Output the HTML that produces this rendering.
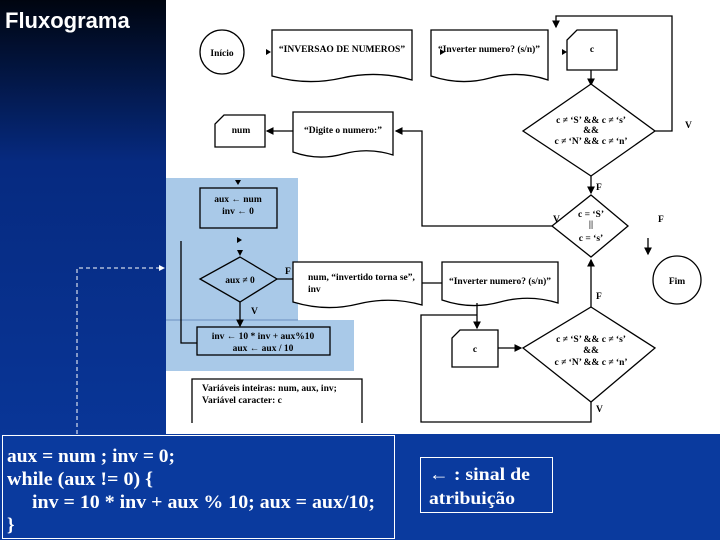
<!DOCTYPE html>
<html><head><meta charset="utf-8"><style>
html,body{margin:0;padding:0;width:720px;height:540px;overflow:hidden}
svg{display:block}
.t{font-family:"Liberation Serif",serif;font-weight:bold;font-size:9.5px;fill:#000}
.c{font-family:"Liberation Serif",serif;font-weight:bold;fill:#fff}
</style></head><body>
<svg width="720" height="540" viewBox="0 0 720 540" xmlns="http://www.w3.org/2000/svg">
<defs>
<linearGradient id="bg" x1="0" y1="0" x2="0" y2="1">
<stop offset="0" stop-color="#000510"/><stop offset="0.3" stop-color="#062a80"/><stop offset="1" stop-color="#0a3aa0"/>
</linearGradient>
<marker id="a" markerWidth="6" markerHeight="6" refX="5" refY="3" orient="auto"><path d="M0,0L6,3L0,6z" fill="#000"/></marker>
<marker id="w" markerWidth="6" markerHeight="6" refX="5" refY="3" orient="auto"><path d="M0,0L6,3L0,6z" fill="#fff"/></marker>
</defs>
<rect width="720" height="540" fill="url(#bg)"/>
<rect x="0" y="434" width="720" height="106" fill="#0a3a9e"/>
<rect x="166" y="0" width="554" height="434" fill="#fff"/>
<rect x="166" y="178" width="132" height="143" fill="#a9c9e8"/>
<rect x="166" y="320" width="188" height="51" fill="#a9c9e8"/>
<line x1="166" y1="320" x2="298" y2="320" stroke="#6b8fc0" stroke-width="1"/>
<text x="5" y="28" font-family="Liberation Sans,sans-serif" font-weight="bold" font-size="22" fill="#fff">Fluxograma</text>
<g stroke="#000" fill="none" stroke-width="1.3">
<circle cx="222" cy="52" r="22" fill="#fff"/>
<path d="M272,30H412V80Q377,70 342,78T272,76Z" fill="#fff"/>
<path d="M431,30H548V80Q519,70 490,78T431,76Z" fill="#fff"/>
<path d="M577,30H617V70H567V40Z" fill="#fff"/>
<line x1="591" y1="70" x2="591" y2="85" marker-end="url(#a)"/>
<polygon points="591,84 655,131 591,176 523,131" fill="#fff"/>
<polyline points="655,131 672,131 672,16 556,16 556,27" marker-end="url(#a)"/>
<line x1="591" y1="176" x2="591" y2="193" marker-end="url(#a)"/>
<polygon points="591,195 628,226 591,257 552,226" fill="#fff"/>
<polyline points="552,226 422,226 422,131 396,131" marker-end="url(#a)"/>
<line x1="648" y1="238" x2="648" y2="254" marker-end="url(#a)"/>
<circle cx="677" cy="280" r="24" fill="#fff"/>
<path d="M293,112H393V155Q368,147 343,154T293,152Z" fill="#fff"/>
<line x1="293" y1="131" x2="267" y2="131" marker-end="url(#a)"/>
<path d="M224,115H265V147H215V124Z" fill="#fff"/>
<rect x="200" y="188" width="77" height="40"/>
<polygon points="240,257 277,279 240,302 200,279"/>
<line x1="277" y1="279" x2="304" y2="279" marker-end="url(#a)"/>
<line x1="240" y1="302" x2="240" y2="326" marker-end="url(#a)"/>
<rect x="197" y="327" width="133" height="28"/>
<polyline points="197,343 181,343 181,241"/>
<path d="M293,262H422V305Q390,296 358,304T293,302Z" fill="#fff"/>
<line x1="422" y1="283" x2="457" y2="283" marker-end="url(#a)"/>
<path d="M442,262H558V303Q529,294 500,302T442,300Z" fill="#fff"/>
<line x1="477" y1="303" x2="477" y2="328" marker-end="url(#a)"/>
<path d="M460,330H498V367H452V338Z" fill="#fff"/>
<line x1="498" y1="348" x2="521" y2="348" marker-end="url(#a)"/>
<polygon points="591,307 655,348 591,402 523,348" fill="#fff"/>
<line x1="591" y1="307" x2="591" y2="260" marker-end="url(#a)"/>
<polyline points="591,402 591,422 421,422 421,315 477,315"/>
<path d="M192,423V379H362V423"/>
</g>
<g fill="#000">
<path d="M266,49L271,52L266,55z"/><path d="M440,49L445,52L440,55z"/><path d="M562,49L567,52L562,55z"/>
<path d="M235,180L241,180L238,185z"/><path d="M237,237L242,240L237,243z"/><path d="M237,250L243,250L240,256z"/>
</g>
<g class="t">
<text x="222" y="56" text-anchor="middle">Início</text>
<text x="342" y="52" text-anchor="middle">“INVERSAO DE NUMEROS”</text>
<text x="489" y="52" text-anchor="middle">“Inverter numero? (s/n)”</text>
<text x="592" y="52" text-anchor="middle">c</text>
<text x="591" y="123" text-anchor="middle">c ≠ ‘S’ &amp;&amp; c ≠ ‘s’</text>
<text x="591" y="133" text-anchor="middle">&amp;&amp;</text>
<text x="591" y="144" text-anchor="middle">c ≠ ‘N’ &amp;&amp; c ≠ ‘n’</text>
<text x="685" y="128">V</text>
<text x="596" y="190">F</text>
<text x="591" y="217" text-anchor="middle">c = ‘S’</text>
<text x="591" y="227" text-anchor="middle">||</text>
<text x="591" y="241" text-anchor="middle">c = ‘s’</text>
<text x="553" y="222">V</text>
<text x="658" y="222">F</text>
<text x="677" y="284" text-anchor="middle">Fim</text>
<text x="343" y="133" text-anchor="middle">“Digite o numero:”</text>
<text x="241" y="133" text-anchor="middle">num</text>
<text x="238" y="202" text-anchor="middle">aux ← num</text>
<text x="238" y="214" text-anchor="middle">inv ← 0</text>
<text x="240" y="283" text-anchor="middle">aux ≠ 0</text>
<text x="285" y="274">F</text>
<text x="251" y="314">V</text>
<text x="263" y="339" text-anchor="middle">inv ← 10 * inv + aux%10</text>
<text x="263" y="351" text-anchor="middle">aux ← aux / 10</text>
<text x="308" y="280">num, “invertido torna se”,</text>
<text x="308" y="292">inv</text>
<text x="500" y="284" text-anchor="middle">“Inverter numero? (s/n)”</text>
<text x="475" y="352" text-anchor="middle">c</text>
<text x="591" y="342" text-anchor="middle">c ≠ ‘S’ &amp;&amp; c ≠ ‘s’</text>
<text x="591" y="353" text-anchor="middle">&amp;&amp;</text>
<text x="591" y="365" text-anchor="middle">c ≠ ‘N’ &amp;&amp; c ≠ ‘n’</text>
<text x="596" y="299">F</text>
<text x="596" y="412">V</text>
<text x="202" y="391">Variáveis inteiras: num, aux, inv;</text>
<text x="202" y="403">Variável caracter: c</text>
</g>
<polyline points="77,434 77,268 164,268" stroke="#fff" stroke-width="1" stroke-dasharray="4,3" fill="none" marker-end="url(#w)"/>
<rect x="2.5" y="435.5" width="392" height="103" fill="#0a3a9e" stroke="#fff" stroke-width="1"/>
<g class="c" font-size="19">
<text x="7" y="462" textLength="168" lengthAdjust="spacingAndGlyphs">aux = num ; inv = 0;</text>
<text x="7" y="485" textLength="146" lengthAdjust="spacingAndGlyphs">while (aux != 0) {</text>
<text x="32" y="508" textLength="343" lengthAdjust="spacingAndGlyphs">inv = 10 * inv + aux % 10; aux = aux/10;</text>
<text x="7" y="531">}</text>
</g>
<rect x="420.5" y="457.5" width="132" height="55" fill="none" stroke="#fff" stroke-width="1"/>
<g class="c" font-size="18">
<text x="429" y="480" textLength="101" lengthAdjust="spacingAndGlyphs">← : sinal de</text>
<text x="429" y="504" textLength="86" lengthAdjust="spacingAndGlyphs">atribuição</text>
</g>
</svg>
</body></html>
